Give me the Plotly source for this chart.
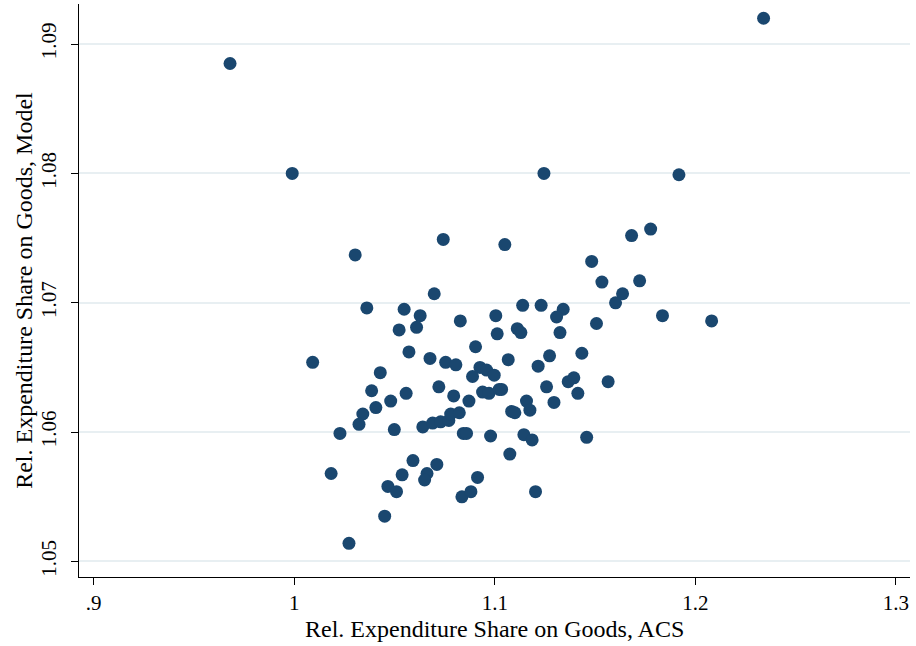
import plotly.graph_objects as go

# Relative expenditure share on goods: ACS (x) vs model (y)
acs_share = [
    1.234, 0.968, 0.999, 1.1918, 1.1245,
    1.0304, 1.0743, 1.0698, 1.0362, 1.0548, 1.0628, 1.0828, 1.0523, 1.0610,
    1.1005, 1.1012, 1.1050, 1.1682, 1.1777, 1.1483, 1.1534, 1.1722, 1.1637,
    1.1602, 1.1139, 1.1231, 1.1341, 1.1308, 1.1112, 1.1130, 1.1325, 1.1507,
    1.1836, 1.2081,
    1.0092, 1.0572, 1.0677, 1.0755, 1.0806, 1.0904, 1.0429, 1.0926, 1.0959,
    1.0997, 1.0889, 1.0386, 1.0721, 1.0558, 1.0481, 1.0795, 1.0871, 1.0939,
    1.0971, 1.1022, 1.0407, 1.0342, 1.0323, 1.0228, 1.0499, 1.0641, 1.0690,
    1.0730, 1.0771, 1.0780, 1.0823, 1.0843, 1.0859, 1.0979,
    1.1067, 1.1273, 1.1434, 1.1216, 1.1258, 1.1366, 1.1394, 1.1565, 1.1034,
    1.1414, 1.1158, 1.1295, 1.1175, 1.1084, 1.1100, 1.1145, 1.1186, 1.1458,
    1.1075,
    1.0184, 1.0273, 1.0451, 1.0467, 1.0510, 1.0538, 1.0592, 1.0662, 1.0650,
    1.0711, 1.0836, 1.0881, 1.0914, 1.1203,
]
model_share = [
    1.0920, 1.0885, 1.0800, 1.0799, 1.0800,
    1.0737, 1.0749, 1.0707, 1.0696, 1.0695, 1.0690, 1.0686, 1.0679, 1.0681,
    1.0690, 1.0676, 1.0745, 1.0752, 1.0757, 1.0732, 1.0716, 1.0717, 1.0707,
    1.0700, 1.0698, 1.0698, 1.0695, 1.0689, 1.0680, 1.0677, 1.0677, 1.0684,
    1.0690, 1.0686,
    1.0654, 1.0662, 1.0657, 1.0654, 1.0652, 1.0666, 1.0646, 1.0650, 1.0648,
    1.0644, 1.0643, 1.0632, 1.0635, 1.0630, 1.0624, 1.0628, 1.0624, 1.0631,
    1.0630, 1.0633, 1.0619, 1.0614, 1.0606, 1.0599, 1.0602, 1.0604, 1.0607,
    1.0608, 1.0609, 1.0614, 1.0615, 1.0599, 1.0599, 1.0597,
    1.0656, 1.0659, 1.0661, 1.0651, 1.0635, 1.0639, 1.0642, 1.0639, 1.0633,
    1.0630, 1.0624, 1.0623, 1.0617, 1.0616, 1.0615, 1.0598, 1.0594, 1.0596,
    1.0583,
    1.0568, 1.0514, 1.0535, 1.0558, 1.0554, 1.0567, 1.0578, 1.0568, 1.0563,
    1.0575, 1.0550, 1.0554, 1.0565, 1.0554,
]

x_ticks = [0.9, 1.0, 1.1, 1.2, 1.3]
x_tick_labels = [".9", "1", "1.1", "1.2", "1.3"]
y_ticks = [1.05, 1.06, 1.07, 1.08, 1.09]
y_tick_labels = ["1.05", "1.06", "1.07", "1.08", "1.09"]

x_title = "Rel. Expenditure Share on Goods, ACS"
y_title = "Rel. Expenditure Share on Goods, Model"

navy = "#1a476f"
serif = "Liberation Serif, Times New Roman, serif"

fig = go.Figure(
    go.Scatter(
        x=acs_share,
        y=model_share,
        mode="markers",
        marker=dict(size=13, color=navy, line=dict(width=0)),
        showlegend=False,
    )
)

fig.update_layout(
    width=916,
    height=646,
    margin=dict(l=79, r=6, t=4, b=69),
    paper_bgcolor="white",
    plot_bgcolor="white",
    font=dict(family=serif, size=21, color="black"),
    annotations=[
        dict(
            text=x_title, xref="paper", yref="paper", x=0.5, y=-0.0908,
            xanchor="center", yanchor="middle", showarrow=False,
            font=dict(size=24),
        ),
        dict(
            text=y_title, xref="paper", yref="paper", x=-0.067, y=0.5,
            xanchor="center", yanchor="middle", showarrow=False,
            textangle=-90, font=dict(size=24),
        ),
    ],
)

fig.update_xaxes(
    range=[0.8927, 1.307],
    tickmode="array",
    tickvals=x_ticks,
    ticktext=x_tick_labels,
    ticks="outside",
    ticklen=7,
    tickwidth=1.3,
    tickcolor="black",
    showline=True,
    linecolor="black",
    linewidth=1.3,
    showgrid=False,
    zeroline=False,
    tickfont=dict(size=21),
)

fig.update_yaxes(
    range=[1.0488, 1.0931],
    tickmode="array",
    tickvals=y_ticks,
    ticktext=y_tick_labels,
    tickangle=-90,
    ticklabelstandoff=6,
    ticks="outside",
    ticklen=7,
    tickwidth=1.3,
    tickcolor="black",
    showline=True,
    linecolor="black",
    linewidth=1.3,
    showgrid=True,
    gridcolor="#e8eff2",
    gridwidth=1.5,
    zeroline=False,
    tickfont=dict(size=21),
)

fig.write_html("out.html")
